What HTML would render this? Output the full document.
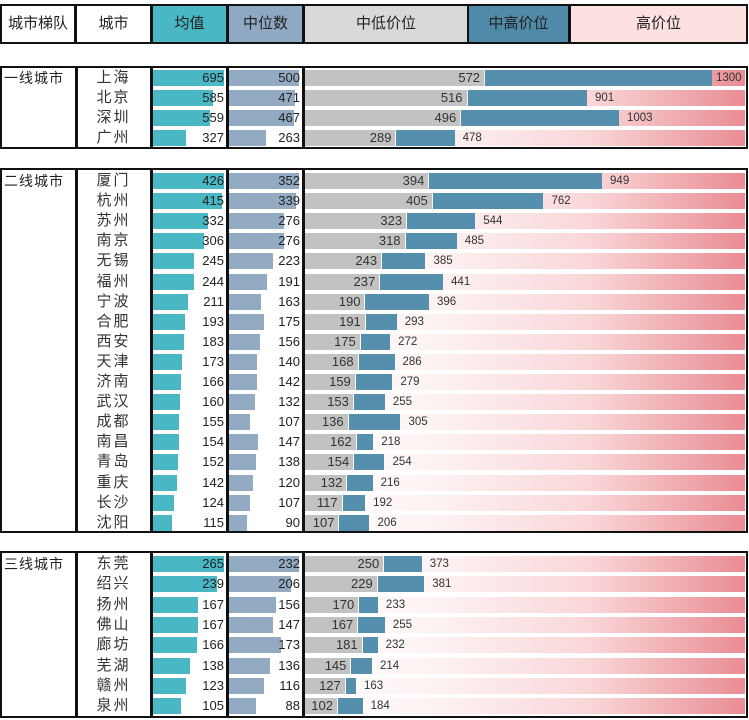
<!DOCTYPE html>
<html><head><meta charset="utf-8">
<style>
body{margin:0;width:749px;height:720px;background:#fff;position:relative;overflow:hidden;font-family:"Liberation Sans","Noto Sans CJK SC",sans-serif;}
div{position:absolute;box-sizing:border-box;}
.h{top:4px;height:40px;border:2px solid #111;font-size:15px;line-height:36px;text-align:center;color:#222;}
.box{border:2.5px solid #111;}
.vl{width:2.5px;background:#111;}
.t{font-size:13px;color:#222;white-space:nowrap;}
.s{font-size:11.5px;color:#333;white-space:nowrap;}
.c{font-size:15px;color:#333;width:73px;text-align:center;left:77px;letter-spacing:2px}
</style></head><body>
<div class="h" style="left:0;width:76px;">城市梯队</div>
<div class="h" style="left:75px;width:77px;">城市</div>
<div class="h" style="left:151px;width:77px;background:#4ab8c4;">均值</div>
<div class="h" style="left:227px;width:77px;background:#8ea9c1;">中位数</div>
<div class="h" style="left:303px;width:166px;background:#d9d9d9;">中低价位</div>
<div class="h" style="left:467px;width:103px;background:#4f8aa8;">中高价位</div>
<div class="h" style="left:569px;width:179px;background:#fde0e0;">高价位</div>
<div id="root"></div>
<script>
var groups=[
 {name:"一线城市",top:66,bot:149,y0:78,p:20,rows:[["上海",695,500,572,1300],["北京",585,471,516,901],["深圳",559,467,496,1003],["广州",327,263,289,478]]},
 {name:"二线城市",top:168,bot:533,y0:181,p:20.1,rows:[["厦门",426,352,394,949],["杭州",415,339,405,762],["苏州",332,276,323,544],["南京",306,276,318,485],["无锡",245,223,243,385],["福州",244,191,237,441],["宁波",211,163,190,396],["合肥",193,175,191,293],["西安",183,156,175,272],["天津",173,140,168,286],["济南",166,142,159,279],["武汉",160,132,153,255],["成都",155,107,136,305],["南昌",154,147,162,218],["青岛",152,138,154,254],["重庆",142,120,132,216],["长沙",124,107,117,192],["沈阳",115,90,107,206]]},
 {name:"三线城市",top:551,bot:718,y0:564,p:20.3,rows:[["东莞",265,232,250,373],["绍兴",239,206,229,381],["扬州",167,156,170,233],["佛山",167,147,167,255],["廊坊",166,173,181,232],["芜湖",138,136,145,214],["赣州",123,116,127,163],["泉州",105,88,102,184]]}
];
var h="";
groups.forEach(function(g){
 h+='<div class="box" style="left:0;top:'+g.top+'px;width:748px;height:'+(g.bot-g.top)+'px"></div>';
 [75,150,226,302].forEach(function(x){h+='<div class="vl" style="left:'+x+'px;top:'+g.top+'px;height:'+(g.bot-g.top)+'px"></div>';});
 h+='<div style="left:4px;top:'+(g.y0-10)+'px;font-size:14px;color:#222;letter-spacing:1px">'+g.name+'</div>';
 var m1=0,m2=0;g.rows.forEach(function(r){m1=Math.max(m1,r[1]);m2=Math.max(m2,r[2]);});
 g.rows.forEach(function(r,i){
  var y=g.y0+i*g.p, bt=y-8;
  h+='<div class="c" style="top:'+(y-10)+'px;line-height:20px">'+r[0]+'</div>';
  h+='<div style="left:153px;top:'+bt+'px;height:16px;width:'+(r[1]/m1*71)+'px;background:#4ab8c4"></div>';
  h+='<div class="t" style="right:'+(749-224)+'px;top:'+(y-8)+'px;line-height:16px">'+r[1]+'</div>';
  h+='<div style="left:229px;top:'+bt+'px;height:16px;width:'+(r[2]/m2*70)+'px;background:#92abc3"></div>';
  h+='<div class="t" style="right:'+(749-300)+'px;top:'+(y-8)+'px;line-height:16px">'+r[2]+'</div>';
  var s=0.313,gx=305+r[3]*s,bx=305+r[4]*s;
  h+='<div style="left:305px;top:'+bt+'px;height:16px;width:440px;background:linear-gradient(to right,#fff 0%,#fdf2f2 30%,#f9d6d8 65%,#e98c92 100%)"></div>';
  h+='<div style="left:305px;top:'+bt+'px;height:16px;width:'+(gx-305)+'px;background:#c2c2c2"></div>';
  h+='<div style="left:'+(gx+1)+'px;top:'+bt+'px;height:16px;width:'+(bx-gx-1)+'px;background:#558fae"></div>';
  h+='<div class="t" style="right:'+(749-gx+4)+'px;top:'+(y-8)+'px;line-height:16px;color:#333">'+r[3]+'</div>';
  var lx=bx+8; if(lx>715) lx=716;
  h+='<div class="s" style="left:'+lx+'px;top:'+(y-8)+'px;line-height:16px">'+r[4]+'</div>';
 });
});
document.getElementById("root").outerHTML=h;
</script>
</body></html>
